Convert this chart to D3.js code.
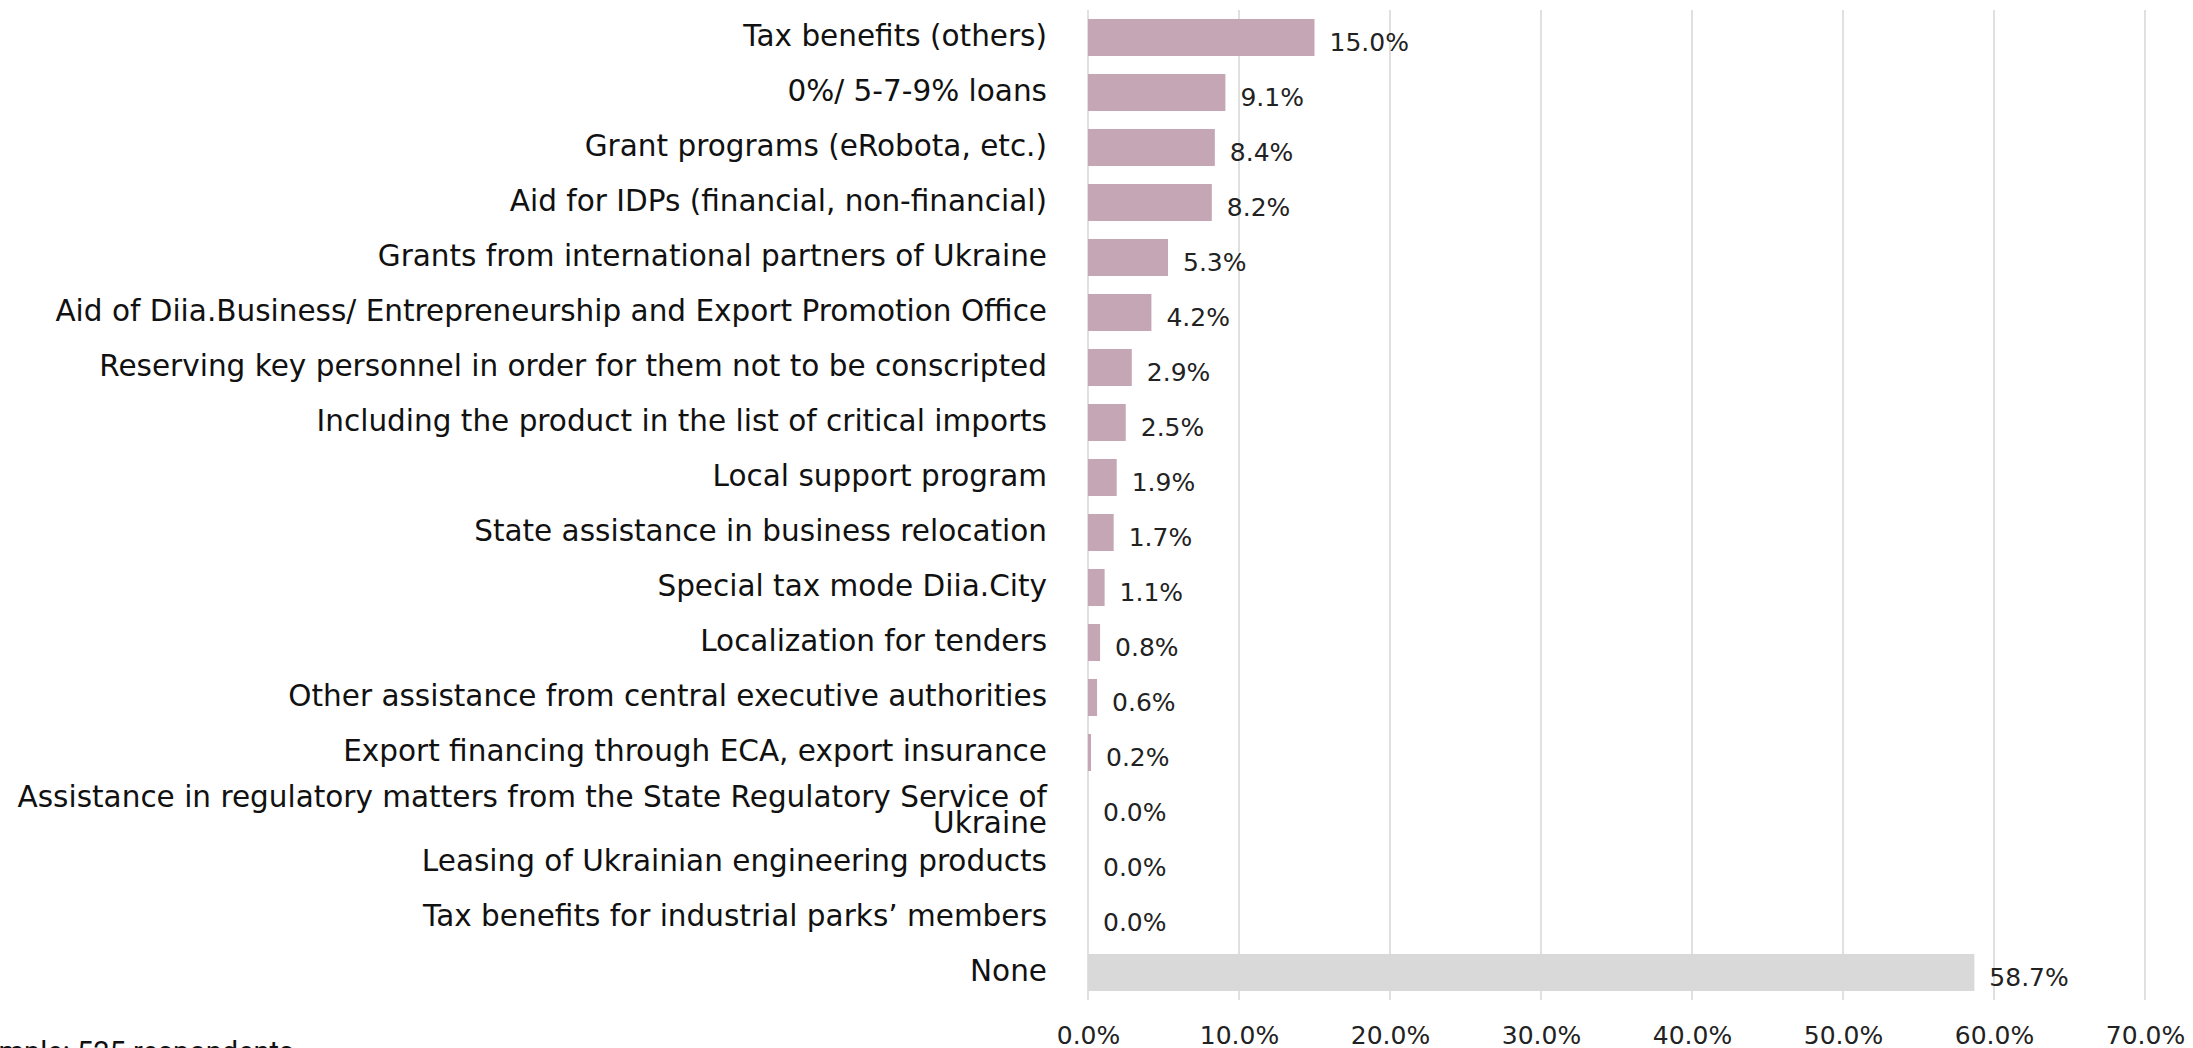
<!DOCTYPE html>
<html>
<head>
<meta charset="utf-8">
<script src="https://cdn.jsdelivr.net/npm/d3@7"></script>
<style>
  html, body { margin: 0; padding: 0; background: #fff; overflow: hidden; }
  svg { display: block; }
</style>
</head>
<body>
<svg id="chart" width="2193" height="1048"></svg>
<script>
// ---- data ----
const categories = [
  "Tax benefits (others)",
  "0%/ 5-7-9% loans",
  "Grant programs (eRobota, etc.)",
  "Aid for IDPs (financial, non-financial)",
  "Grants from international partners of Ukraine",
  "Aid of Diia.Business/ Entrepreneurship and Export Promotion Office",
  "Reserving key personnel in order for them not to be conscripted",
  "Including the product in the list of critical imports",
  "Local support program",
  "State assistance in business relocation",
  "Special tax mode Diia.City",
  "Localization for tenders",
  "Other assistance from central executive authorities",
  "Export financing through ECA, export insurance",
  "Assistance in regulatory matters from the State Regulatory Service of Ukraine",
  "Leasing of Ukrainian engineering products",
  "Tax benefits for industrial parks\u2019 members",
  "None"
];
const values = [15.0, 9.1, 8.4, 8.2, 5.3, 4.2, 2.9, 2.5, 1.9, 1.7, 1.1, 0.8, 0.6, 0.2, 0.0, 0.0, 0.0, 58.7];
const tickValues = [0, 10, 20, 30, 40, 50, 60, 70];
const footnote = "Sample: 525 respondents";

// ---- layout ----
const svg = d3.select("#chart");
const x0 = 1088, x1 = 2145;
const yTop = 10, yBottom = 1000;

const x = d3.scaleLinear().domain([0, 70]).range([x0, x1]);
const y = d3.scaleBand().domain(categories).range([yTop, yBottom])
  .paddingInner(0.327).paddingOuter(0.1635);

const colorMain = "#c5a6b5";
const colorNone = "#d9d9d9";

// gridlines
svg.append("g").selectAll("line").data(tickValues).join("line")
  .attr("x1", d => x(d)).attr("x2", d => x(d))
  .attr("y1", yTop).attr("y2", yBottom)
  .attr("stroke", "#d9d9d9").attr("stroke-width", 1.6);

// bars
svg.append("g").selectAll("rect").data(categories).join("rect")
  .attr("x", x(0))
  .attr("y", d => y(d))
  .attr("width", (d, i) => x(values[i]) - x(0))
  .attr("height", y.bandwidth())
  .attr("fill", d => d === "None" ? colorNone : colorMain);

// value labels
svg.append("g").selectAll("text").data(categories).join("text")
  .attr("x", (d, i) => x(values[i]) + 15)
  .attr("y", d => y(d) + y.bandwidth() / 2 + 13)
  .attr("font-family", "DejaVu Sans")
  .attr("font-size", 25)
  .attr("fill", "#222")
  .text((d, i) => values[i].toFixed(1) + "%");

// category labels (y axis)
const labelFont = "DejaVu Sans";
const yAxis = svg.append("g");
categories.forEach((c, i) => {
  const cy = y(c) + y.bandwidth() / 2;
  const t = yAxis.append("text")
    .attr("text-anchor", "end")
    .attr("font-family", labelFont)
    .attr("font-size", 29.5)
    .attr("fill", "#111");
  if (c.startsWith("Assistance in regulatory")) {
    t.append("tspan").attr("x", x0 - 41).attr("y", cy - 1)
      .text("Assistance in regulatory matters from the State Regulatory Service of");
    t.append("tspan").attr("x", x0 - 41).attr("y", cy + 25).text("Ukraine");
  } else {
    t.attr("x", x0 - 41).attr("y", cy + 8).text(c);
  }
});

// x axis tick labels
const xAxis = d3.axisBottom(x).tickValues(tickValues)
  .tickFormat(d => d.toFixed(1) + "%").tickSize(0).tickPadding(0);
const gx = svg.append("g").attr("transform", `translate(0, ${1021})`).call(xAxis);
gx.select(".domain").remove();
gx.selectAll("text")
  .attr("font-family", "DejaVu Sans")
  .attr("font-size", 25)
  .attr("fill", "#222")
  .attr("dy", "0.9em");

// footnote (partially cut off at the left edge, as in the reference)
svg.append("text")
  .attr("x", 294).attr("y", 1062)
  .attr("text-anchor", "end")
  .attr("font-family", "Roboto")
  .attr("font-size", 29)
  .attr("fill", "#111")
  .text(footnote);
</script>
</body>
</html>
